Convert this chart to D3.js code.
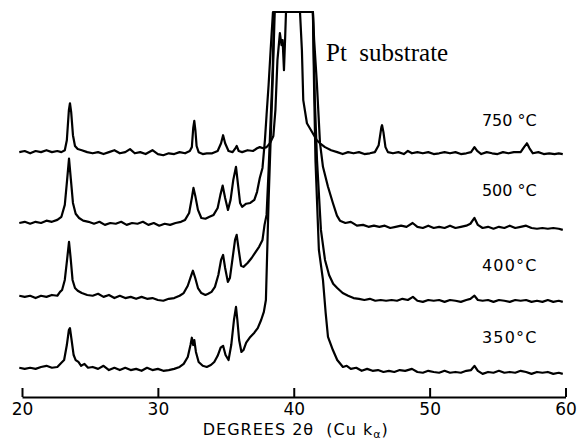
<!DOCTYPE html>
<html>
<head>
<meta charset="utf-8">
<style>
  body { margin: 0; background: #fff; }
  svg text { font-family: "DejaVu Sans", sans-serif; fill: #000; }
</style>
<title>XRD patterns</title>
</head>
<body>
<script src="https://cdn.jsdelivr.net/npm/d3@7"></script>
<script>

// data ///////////////////////////////////////////////////////////////////////

const temps   = ['750 °C', '500 °C', '400°C', '350°C'];
const offsets = [63.6, 45.5, 26.0, 7.3];      // vertical shift of each pattern
const xTicks  = [20, 30, 40, 50, 60];

// [2theta, intensity above own baseline]
const s750 = [
	[19.8,0],[20.2,0.3],[20.6,-0.3],[21.0,0.3],[21.4,0],[21.8,0.5],[22.2,0],[22.6,0.3],[22.9,0],
	[23.15,0.5],[23.3,3.1],[23.45,10.9],[23.53,12.7],[23.62,10.4],[23.75,4.4],[23.9,1.6],[24.1,0.8],
	[24.4,0.5],[24.8,0],[25.2,-0.3],[25.6,0],[26.0,-0.5],[26.4,0],[26.8,0.5],[27.2,-0.3],[27.6,0],
	[27.95,0.8],[28.3,-0.3],[28.7,0],[29.1,-0.5],[29.6,0.5],[30.0,-0.5],[30.4,-0.8],[30.8,-0.3],
	[31.2,-0.5],[31.6,0],[32.0,-0.3],[32.35,0.3],[32.5,1.3],[32.6,6.2],[32.68,8.1],[32.76,5.7],
	[32.85,1.6],[33.0,0],[33.3,-0.5],[33.6,-0.3],[34.0,-0.3],[34.4,0.3],[34.65,2.3],[34.8,4.4],
	[34.95,2.3],[35.2,0.3],[35.5,0],[35.7,1.0],[35.8,1.6],[35.95,0.3],[36.2,0],[36.6,0.5],[37.0,0.3],
	[37.3,1.0],[37.5,1.3],[37.75,1.0],[38.0,1.3],[38.25,2.3],[38.5,4.2],[38.65,10.9],[38.8,23.9],
	[38.98,30.9],[39.1,27.8],[39.18,29.1],[39.28,21.3],[39.36,29.1],[39.43,40],[40.46,40],
	[40.6,26.5],[40.7,13.5],[40.97,7.5],[41.4,4.9],[41.7,3.1],[41.93,2.3],[42.3,1.3],[42.75,0.5],
	[43.2,0],[43.6,-0.5],[44.0,0],[44.4,-0.3],[44.8,0],[45.2,-0.5],[45.6,-0.3],[45.97,0],[46.25,1.8],
	[46.45,6.5],[46.5,7.0],[46.6,5.2],[46.75,1.3],[46.93,0],[47.3,-0.3],[47.7,0],[48.1,-0.5],
	[48.4,0.3],[48.7,-0.3],[49.1,0],[49.5,-0.3],[49.9,0],[50.3,-0.5],[50.7,-0.3],[51.1,0],[51.5,-0.3],
	[51.9,0],[52.3,-0.5],[52.7,-0.3],[53.05,0],[53.3,1.3],[53.5,0.3],[53.8,-0.5],[54.2,0],[54.6,-0.3],
	[55.0,-0.5],[55.4,0],[55.8,-0.3],[56.2,0],[56.7,0],[56.95,1.3],[57.16,2.3],[57.35,1.0],[57.6,-0.3],
	[58.0,0],[58.4,-0.5],[58.8,-0.3],[59.2,-0.5],[59.5,-0.3],[59.8,-0.5]
];

const s500 = [
	[19.8,-0.3],[20.2,0],[20.6,-0.5],[21.0,0],[21.4,-0.3],[21.8,0.3],[22.2,0],[22.6,0.5],[22.9,1.3],
	[23.15,4.4],[23.32,10.9],[23.46,16.4],[23.6,10.9],[23.75,4.9],[23.95,2.1],[24.2,1.0],[24.5,0.3],
	[24.9,0],[25.3,-0.5],[25.7,0],[26.1,-0.8],[26.5,-0.3],[26.9,-0.5],[27.3,0],[27.7,-0.8],[28.1,-0.3],
	[28.5,-0.5],[28.9,0],[29.3,-0.8],[29.7,-0.3],[30.1,-1.0],[30.5,-0.5],[30.9,-0.8],[31.3,-0.3],
	[31.7,0],[32.0,0.5],[32.3,2.3],[32.5,6.2],[32.62,8.8],[32.75,6.8],[32.95,3.1],[33.2,1.0],[33.5,0.8],
	[33.8,1.3],[34.1,1.8],[34.4,3.6],[34.6,7.0],[34.77,9.4],[34.95,6.2],[35.16,3.1],[35.35,5.7],
	[35.55,10.9],[35.75,14.3],[35.9,9.6],[36.05,4.9],[36.2,3.9],[36.5,4.7],[36.8,4.9],[37.1,5.7],
	[37.3,7.8],[37.5,11.4],[37.7,14.0],[37.88,21.3],[38.0,27.8],[38.15,35.6],[38.3,44.7],[38.47,60],
	[41.41,60],[41.5,47.3],[41.7,36.1],[41.93,20.5],[42.15,14.3],[42.52,9.1],[42.88,4.9],[43.18,1.6],
	[43.4,0.3],[43.8,-0.3],[44.2,0],[44.65,-1.0],[45.1,-0.8],[45.5,-1.3],[45.9,-1.0],[46.3,-1.3],
	[46.7,-1.0],[47.1,-1.6],[47.5,-1.3],[47.9,-1.0],[48.3,-1.3],[48.75,-0.3],[49.1,-1.3],[49.5,-1.6],
	[49.9,-1.0],[50.3,-1.6],[50.7,-1.3],[51.1,-1.6],[51.5,-1.0],[51.9,-1.6],[52.3,-1.3],[52.7,-1.0],
	[53.0,-0.5],[53.3,1.0],[53.55,-0.8],[53.9,-1.6],[54.3,-1.3],[54.7,-1.8],[55.1,-1.3],[55.5,-1.6],
	[55.9,-1.0],[56.3,-1.6],[56.7,-1.3],[57.1,-1.0],[57.5,-1.6],[57.9,-1.8],[58.3,-1.6],[58.7,-1.8],
	[59.1,-1.6],[59.5,-1.8],[59.8,-2.1]
];

const s400 = [
	[19.8,0.3],[20.2,0],[20.6,0.3],[21.0,-0.3],[21.4,0.3],[21.8,0],[22.2,0.5],[22.6,0.3],[22.8,1.3],
	[22.95,1.8],[23.15,4.4],[23.3,9.1],[23.46,14.3],[23.58,10.1],[23.72,4.4],[23.9,2.3],[24.1,1.6],
	[24.4,1.0],[24.8,0.5],[25.2,0.3],[25.6,0.8],[26.0,0],[26.4,0.5],[26.8,-0.3],[27.2,0.3],[27.6,-0.3],
	[28.0,0],[28.4,-0.5],[28.8,0],[29.2,-0.5],[29.6,-0.3],[30.0,-0.8],[30.4,-1.0],[30.8,-0.5],
	[31.2,-0.3],[31.6,0.3],[31.9,1.0],[32.2,2.9],[32.45,5.5],[32.58,6.8],[32.75,4.9],[32.95,2.3],
	[33.2,1.0],[33.5,0.5],[33.7,0.8],[33.95,1.3],[34.2,2.6],[34.45,5.7],[34.65,9.6],[34.8,10.9],
	[34.95,7.5],[35.15,3.9],[35.3,4.9],[35.5,10.1],[35.68,14.8],[35.8,16.1],[35.95,12.2],[36.12,8.1],
	[36.3,7.8],[36.6,8.8],[36.9,10.1],[37.2,11.7],[37.45,13.0],[37.7,14.8],[37.85,18.7],[38.0,21.3],
	[38.15,33.0],[38.3,46.0],[38.45,59.0],[38.55,80],[41.41,80],[41.55,51.2],[41.71,35.6],[42.0,17.4],
	[42.3,9.6],[42.6,5.7],[42.9,3.4],[43.2,2.3],[43.6,1.0],[44.0,0.3],[44.4,-0.3],[44.8,-0.5],
	[45.2,-0.8],[45.6,-0.5],[46.0,-1.0],[46.4,-0.8],[46.8,-1.0],[47.2,-0.8],[47.6,-1.0],[48.0,-0.5],
	[48.4,-0.8],[48.77,0],[49.1,-1.0],[49.5,-1.3],[49.9,-0.8],[50.3,-1.0],[50.7,-0.8],[51.1,-1.3],
	[51.5,-0.8],[51.9,-1.0],[52.3,-1.3],[52.7,-0.8],[53.0,-0.5],[53.3,0.3],[53.55,-0.8],[53.9,-1.0],
	[54.3,-0.8],[54.7,-1.3],[55.1,-0.8],[55.5,-1.0],[55.9,-1.3],[56.3,-0.8],[56.7,-1.0],[57.1,-0.8],
	[57.5,-1.3],[57.9,-1.0],[58.3,-1.3],[58.7,-0.8],[59.1,-1.3],[59.5,-1.0],[59.8,-1.3]
];

const s350 = [
	[19.8,0.3],[20.2,0],[20.6,0.3],[21.0,0],[21.4,0.5],[21.8,0.8],[22.2,0.3],[22.6,0.5],[22.9,1.6],
	[23.1,2.3],[23.3,6.2],[23.45,10.1],[23.53,10.6],[23.65,7.5],[23.8,3.6],[23.95,2.3],[24.15,1.8],
	[24.35,0.8],[24.6,1.3],[24.86,0.3],[25.2,0.5],[25.6,0],[26.0,0.8],[26.4,-0.3],[26.8,0.3],
	[27.2,-0.3],[27.6,0.3],[28.0,-0.3],[28.4,0],[28.8,-0.5],[29.2,0.3],[29.6,-0.3],[30.0,0],[30.4,-0.5],
	[30.8,-0.3],[31.2,0],[31.6,0.5],[31.9,1.3],[32.2,3.1],[32.4,6.2],[32.5,8.1],[32.6,6.2],[32.68,7.5],
	[32.8,4.4],[33.0,1.8],[33.3,0.8],[33.6,0.5],[33.9,1.0],[34.15,1.8],[34.4,3.4],[34.62,5.5],
	[34.8,6.0],[34.98,3.6],[35.2,2.3],[35.4,6.2],[35.6,12.7],[35.75,16.1],[35.85,12.7],[35.98,7.5],
	[36.15,4.4],[36.3,4.9],[36.5,6.8],[36.8,8.3],[37.1,9.4],[37.35,10.6],[37.6,12.7],[37.8,14.8],
	[37.95,17.9],[38.05,30.9],[38.15,43.9],[38.3,59.5],[38.45,75.1],[38.6,100],[41.41,100],
	[41.5,72.4],[41.6,54.0],[41.85,30.9],[42.15,23.1],[42.35,14.5],[42.52,8.3],[42.88,4.9],[43.2,2.3],
	[43.62,0.5],[43.9,0.8],[44.2,0],[44.6,0.3],[45.0,-0.5],[45.4,0],[45.8,-0.5],[46.2,-0.3],[46.6,-0.8],
	[47.0,-0.5],[47.4,-0.8],[47.8,-0.3],[48.2,-0.5],[48.7,0],[49.1,-0.8],[49.5,-1.0],[49.9,-0.5],
	[50.3,-0.8],[50.7,-1.0],[51.1,-0.5],[51.5,-1.0],[51.9,-0.8],[52.3,-1.0],[52.7,-0.5],[53.05,-0.3],
	[53.3,0.8],[53.55,-0.5],[53.9,-1.3],[54.3,-0.8],[54.7,-1.0],[55.1,-0.5],[55.5,-1.0],[55.9,-0.8],
	[56.3,-1.0],[56.7,-0.5],[57.1,-0.8],[57.5,-1.3],[57.9,-0.8],[58.3,-1.0],[58.7,-0.8],[59.1,-1.3],
	[59.5,-1.0],[59.8,-1.3]
];

const patterns = [s750, s500, s400, s350];

// chart //////////////////////////////////////////////////////////////////////

const width = 579, height = 440;

const svg = d3.select('body').append('svg')
	.attr('width', width)
	.attr('height', height);

const x = d3.scaleLinear()
	.domain([20, 60])
	.range([22, 565.5]);

// the Pt peak runs off the top of the plot: clamp it
const y = d3.scaleLinear()
	.domain([0, 100])
	.range([397, 12])
	.clamp(true);

patterns.forEach((data, i) => {
	const line = d3.line()
		.x(d => x(d[0]))
		.y(d => y(offsets[i] + d[1]));

	svg.append('path')
		.attr('d', line(data))
		.attr('fill', 'none')
		.attr('stroke', '#000')
		.attr('stroke-width', 2.2)
		.attr('stroke-linejoin', 'round');

	svg.append('text')
		.attr('x', x(53.85))
		.attr('y', y(offsets[i] + 6.7))
		.attr('font-size', 16)
		.attr('letter-spacing', i > 1 ? 1.2 : 0)
		.text(temps[i]);
});

const xAxis = d3.axisBottom(x)
	.tickValues(xTicks)
	.tickSizeInner(-9)
	.tickSizeOuter(0)
	.tickPadding(6)
	.tickFormat(d3.format('d'));

svg.append('g')
	.attr('transform', `translate(0,${y(0)})`)
	.call(xAxis)
	.call(g => g.select('.domain').attr('stroke-width', 2))
	.call(g => g.selectAll('.tick line').attr('stroke-width', 2))
	.call(g => g.selectAll('.tick text').attr('font-size', 17));

const title = svg.append('text')
	.attr('x', x(40) + 2)
	.attr('y', 435)
	.attr('text-anchor', 'middle')
	.attr('font-size', 16)
	.attr('letter-spacing', 1)
	.style('white-space', 'pre');
title.append('tspan').text('DEGREES 2θ  (Cu k');
title.append('tspan').attr('font-size', 11).attr('dy', 3).text('α');
title.append('tspan').attr('dy', -3).text(')');

svg.append('text')
	.attr('x', 326)
	.attr('y', 61)
	.attr('font-size', 25)
	.style('font-family', '"Liberation Serif", "Times New Roman", serif')
	.style('white-space', 'pre')
	.text('Pt  substrate');

</script>
</body>
</html>
